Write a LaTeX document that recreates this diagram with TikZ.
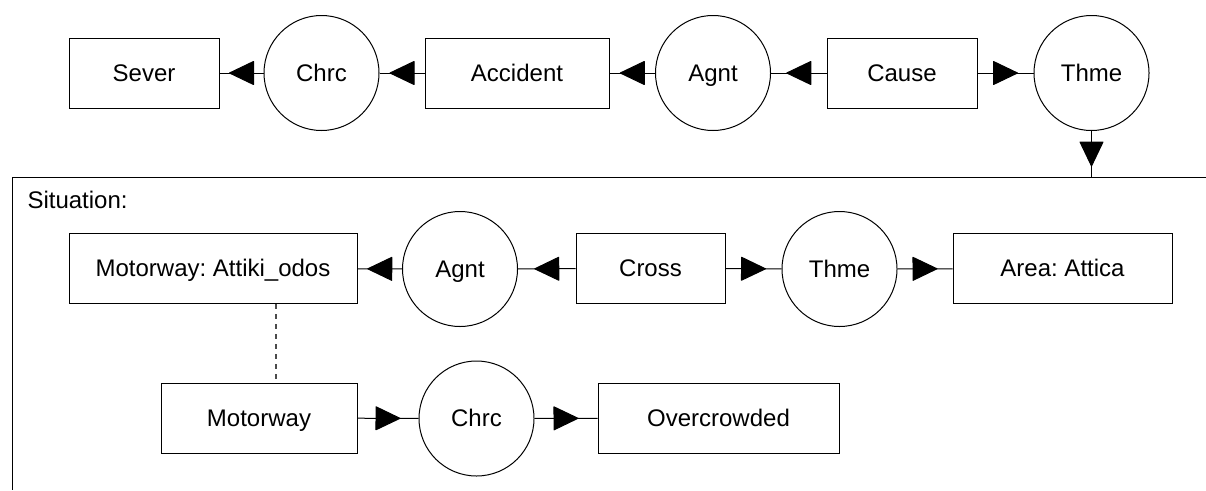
\documentclass[tikz,border=0pt]{standalone}
\usepackage{fontspec}
\setmainfont{Liberation Sans}
\frenchspacing
\usetikzlibrary{decorations.markings}
\begin{document}
\begin{tikzpicture}[x=1pt,y=-1pt,line width=1pt,
  every node/.style={font=\fontsize{24}{28}\selectfont,text height=17pt,text depth=1pt},
  concept/.style={draw,rectangle,minimum height=70pt,inner sep=0pt},
  relation/.style={draw,circle,minimum size=115pt,inner sep=0pt},
  link/.style={draw,postaction={decorate,decoration={markings,
     mark=at position 0.5 with {\filldraw[line join=round] (12pt,0) -- (-12pt,11.5pt) -- (-12pt,-11.5pt) -- cycle;}}}},
  coref/.style={draw=black!70,line width=1.3pt,dash pattern=on 5pt off 5pt}]
\useasboundingbox (0,0) rectangle (1206,490);
% top row
\node[concept,minimum width=150pt] (sever) at (144,73) {Sever};
\node[relation] (chrc1) at (321.5,73) {Chrc};
\node[concept,minimum width=184pt] (accident) at (517,73) {Accident};
\node[relation] (agnt1) at (713,73) {Agnt};
\node[concept,minimum width=150pt] (cause) at (902,73) {Cause};
\node[relation] (thme1) at (1091.5,73) {Thme};
% situation frame
\coordinate (frameTL) at (12,177);
\coordinate (frameTR) at (1206,177);
\coordinate (frameBL) at (12,490);
\coordinate (sitTop) at (1091.5,177);
\draw (frameTR) -- (frameTL) -- (frameBL);
\node[anchor=base west,inner sep=0pt,text height=,text depth=] (sitlabel) at (27,208) {Situation:};
% second row
\node[concept,minimum width=288pt] (attiki) at (213,268.5) {Motorway: Attiki\_odos};
\node[relation] (agnt2) at (460,269) {Agnt};
\node[concept,minimum width=149pt] (cross) at (650.5,268.5) {Cross};
\node[relation] (thme2) at (839.5,269) {Thme};
\node[concept,minimum width=219pt] (area) at (1062.5,268.5) {Area: Attica};
% third row
\node[concept,minimum width=196pt] (motorway) at (259,418) {Motorway};
\node[relation] (chrc2) at (476.5,418.5) {Chrc};
\node[concept,minimum width=241pt] (over) at (718.5,418) {Overcrowded};
% links top
\path[link] (chrc1) -- (sever);
\path[link] (accident) -- (chrc1);
\path[link] (agnt1) -- (accident);
\path[link] (cause) -- (agnt1);
\path[link] (cause) -- (thme1);
\path[link] (thme1) -- (sitTop);
% links second row
\path[link] (agnt2) -- (attiki);
\path[link] (cross) -- (agnt2);
\path[link] (cross) -- (thme2);
\path[link] (thme2) -- (area);
% third row
\path[link] (motorway) -- (chrc2);
\path[link] (chrc2) -- (over);
% coreference
\draw[coref] (attiki.south -| 276,0) -- (motorway.north -| 276,0);
\end{tikzpicture}
\end{document}
